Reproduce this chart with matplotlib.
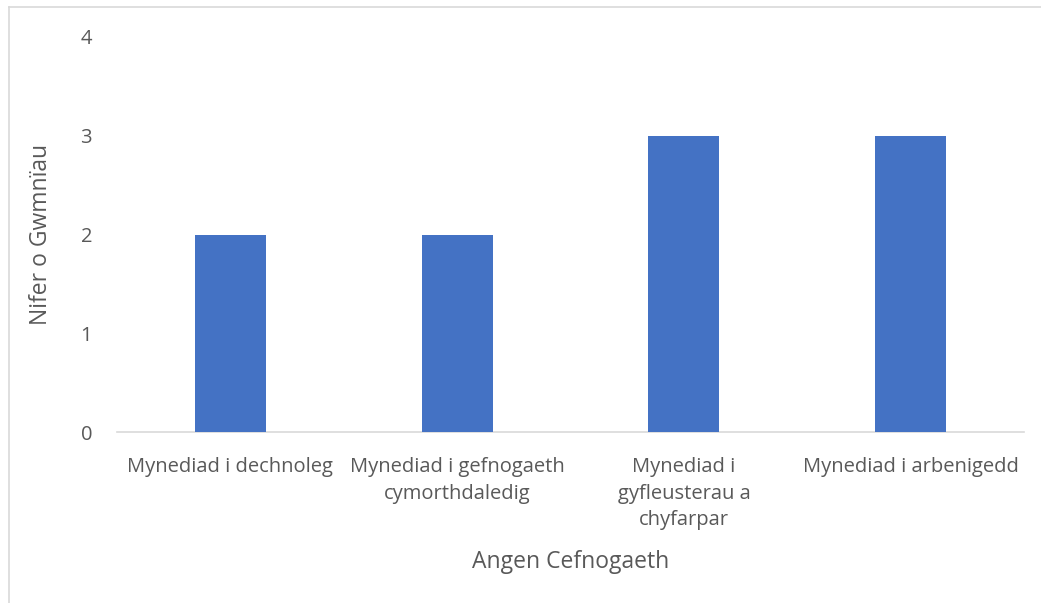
import matplotlib.pyplot as plt
import matplotlib.lines as mlines
import numpy as np

categories = ["Mynediad i dechnoleg", "Mynediad i gefnogaeth\ncymorthdaledig",
              "Mynediad i\ngyfleusterau a\nchyfarpar", "Mynediad i arbenigedd"]
values = [2, 2, 3, 3]

plt.rcParams['font.family'] = ['Open Sans', 'DejaVu Sans']
grey = '#595959'

fig = plt.figure(figsize=(10.41, 6.03), dpi=100)
ax = fig.add_axes([117 / 1041, 171 / 603, 907 / 1041, 395 / 603])

x = np.arange(len(categories))
ax.bar(x, values, width=0.313, color='#4472C4', zorder=3)

ax.set_xlim(-0.5, len(categories) - 0.5)
ax.set_ylim(0, 4)
ax.set_yticks([0, 1, 2, 3, 4])
ax.set_xticks(x)
ax.set_xticklabels(categories, fontsize=14.5, color=grey, linespacing=1.45)
ax.tick_params(axis='x', length=0, pad=18)
ax.tick_params(axis='y', length=0, pad=18, labelsize=14.5, labelcolor=grey)

for s in ['top', 'right', 'left']:
    ax.spines[s].set_visible(False)
ax.spines['bottom'].set_color('#D9D9D9')
ax.spines['bottom'].set_linewidth(1.2)

ax.set_xlabel("Angen Cefnogaeth", fontsize=16.5, color=grey, labelpad=14)
ax.set_ylabel("Nifer o Gwmnïau", fontsize=16.5, color=grey, labelpad=20)

# chart border (left and top edges visible)
fig.add_artist(mlines.Line2D([8.5 / 1041, 8.5 / 1041], [0, 1 - 7 / 603],
                             transform=fig.transFigure, color='#D9D9D9', lw=1.2))
fig.add_artist(mlines.Line2D([8.5 / 1041, 1], [1 - 7 / 603, 1 - 7 / 603],
                             transform=fig.transFigure, color='#D9D9D9', lw=1.2))

fig.savefig("out.png", dpi=100)
